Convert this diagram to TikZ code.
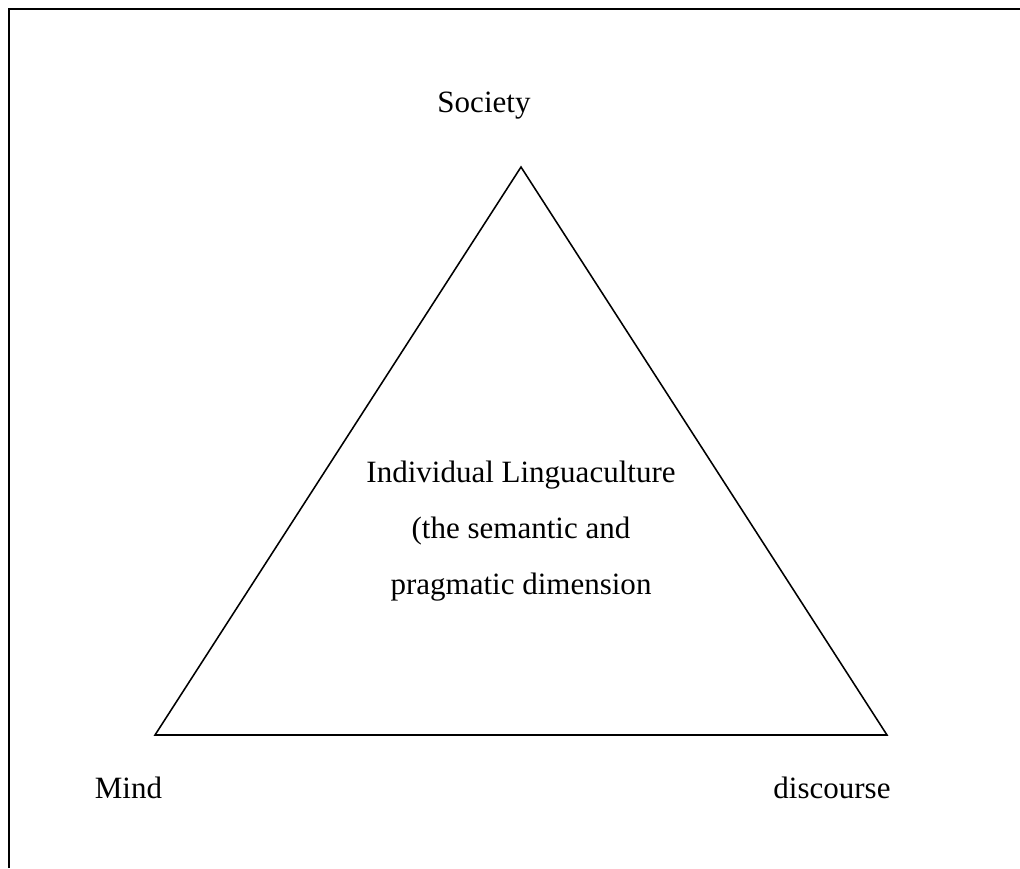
\documentclass[tikz,border=0pt]{standalone}
\usepackage{fontspec}
\setmainfont{Liberation Serif}
\begin{document}
\begin{tikzpicture}[x=0.387pt, y=-0.387pt, font=\fontsize{12}{21.7}\selectfont]
	\useasboundingbox (0,0) rectangle (1020,868);
	\draw[line width=0.9pt] (9,868) -- (9,9) -- (1020,9);
	% corners of the triangle
	\coordinate (top) at (521,167);
	\coordinate (left) at (155,735);
	\coordinate (right) at (887,735);
	\draw[line width=0.6pt, line join=miter] (left) -- (top) -- (right) -- cycle;
	\node[anchor=base] (society) at (484,112) {Society};
	\node[anchor=base] (mind) at (128.5,798) {Mind};
	\node[anchor=base] (discourse) at (832,798) {discourse};
	\node[align=center, inner sep=0pt] (ling) at (521,531) {Individual Linguaculture\\(the semantic and\\pragmatic dimension};
\end{tikzpicture}
\end{document}
